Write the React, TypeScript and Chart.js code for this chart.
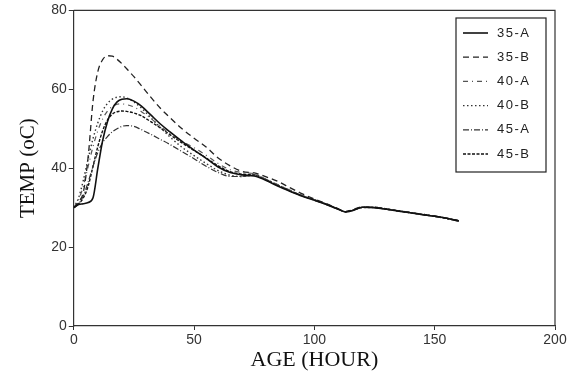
import React, { useEffect, useRef } from "react";
import { Chart, registerables } from "chart.js";

Chart.register(...registerables);

const hours = [0, 2, 4, 6, 8, 10, 12, 14, 16, 18, 20, 22, 25, 28, 32, 36, 40, 45, 50, 55, 60, 65, 70, 75, 80, 85, 90, 95, 100, 105, 110, 113, 116, 120, 125, 130, 135, 140, 145, 150, 155, 160];

const s35A = [30, 30.8, 31, 31.3, 32.5, 40, 47, 51.8, 55, 56.8, 57.5, 57.6, 57, 55.8, 53.5, 51.2, 49.2, 46.8, 44.6, 42.5, 40.3, 38.9, 38.3, 38, 36.9, 35.4, 34.1, 32.9, 31.9, 30.8, 29.6, 28.9, 29.3, 30.1, 30, 29.6, 29.1, 28.7, 28.2, 27.8, 27.3, 26.6];
const s35B = [30, 31.5, 34, 43, 57, 64.5, 67.5, 68.5, 68.4, 67.6, 66.5, 65.2, 63.2, 61, 58, 55.2, 52.8, 50, 47.6, 45.4, 42.6, 40.6, 39.2, 38.8, 37.8, 36.6, 35, 33.5, 32.2, 31, 29.7, 29, 29.5, 30.2, 30, 29.7, 29.2, 28.8, 28.3, 27.9, 27.3, 26.7];
const s40A = [30, 32, 35.5, 40.5, 45.5, 49.5, 52.5, 54.5, 55.6, 56.2, 56.3, 56.1, 55.5, 54.4, 52.6, 50.6, 48.7, 46.8, 45.2, 43.3, 41.2, 39.6, 38.9, 38.6, 37.2, 35.8, 34.4, 33.1, 32, 30.9, 29.6, 29, 29.4, 30.1, 30, 29.6, 29.2, 28.7, 28.2, 27.8, 27.3, 26.6];
const s40B = [30, 32.5, 37, 42.5, 47.5, 51.5, 54.5, 56.4, 57.5, 58, 58.1, 57.8, 56.8, 55.3, 52.8, 50.3, 47.9, 45.3, 43.2, 41.2, 39.4, 38.2, 37.9, 38.2, 37, 35.6, 34.2, 33, 31.9, 30.8, 29.5, 28.9, 29.3, 30, 30, 29.6, 29.1, 28.7, 28.2, 27.8, 27.2, 26.6];
const s45A = [30, 31, 33, 36.5, 40.5, 44, 46.5, 48, 49.2, 50, 50.6, 50.8, 50.6, 49.8, 48.6, 47.3, 46, 44.2, 42.4, 40.5, 38.9, 37.9, 37.9, 38.3, 37.1, 35.7, 34.3, 33, 31.9, 30.8, 29.6, 29, 29.4, 30.1, 30, 29.6, 29.2, 28.7, 28.2, 27.8, 27.3, 26.6];
const s45B = [30, 31, 32.5, 35.5, 40.5, 45.5, 49.5, 52.2, 53.7, 54.3, 54.5, 54.4, 54, 53.3, 51.8, 50.2, 48.5, 46.4, 44.5, 42.6, 40.6, 39.1, 38.5, 38.3, 37, 35.6, 34.2, 33, 32, 30.9, 29.6, 29, 29.4, 30.1, 30.1, 29.7, 29.2, 28.7, 28.3, 27.8, 27.3, 26.7];

const seriesLabels = ["35-A", "35-B", "40-A", "40-B", "45-A", "45-B"];
const seriesValues = [s35A, s35B, s40A, s40B, s45A, s45B];
const xTicks = [0, 50, 100, 150, 200];
const yTicks = [0, 20, 40, 60, 80];

const dashes: number[][] = [[], [6, 4], [5, 4, 1, 4], [1.5, 2.5], [6, 2, 1, 2], [3, 1.5]];
const widths = [1.6, 1.3, 1.2, 1.4, 1.2, 1.4];
const colors = ["#111", "#222", "#555", "#333", "#333", "#111"];

const framePlugin = {
  id: "frameLegend",
  afterDraw(chart: any) {
    const { ctx, chartArea } = chart;
    ctx.save();
    ctx.strokeStyle = "#333";
    ctx.lineWidth = 1.2;
    ctx.setLineDash([]);
    ctx.beginPath();
    ctx.moveTo(chartArea.left, chartArea.top);
    ctx.lineTo(chartArea.right, chartArea.top);
    ctx.lineTo(chartArea.right, chartArea.bottom);
    ctx.stroke();

    // legend box
    const bx = 456, by = 18, bw = 90, bh = 154;
    ctx.strokeStyle = "#222";
    ctx.lineWidth = 1.2;
    ctx.strokeRect(bx, by, bw, bh);
    const ds = chart.data.datasets;
    ctx.font = "13px 'Liberation Sans', Arial, sans-serif";
    ctx.fillStyle = "#222";
    ctx.textBaseline = "middle";
    (ctx as any).letterSpacing = "1.5px";
    for (let i = 0; i < ds.length; i++) {
      const y = 33 + i * 24.2;
      ctx.beginPath();
      ctx.setLineDash(ds[i].borderDash || []);
      ctx.strokeStyle = ds[i].borderColor;
      ctx.lineWidth = ds[i].borderWidth;
      ctx.moveTo(463, y);
      ctx.lineTo(488, y);
      ctx.stroke();
      ctx.setLineDash([]);
      ctx.fillText(ds[i].label, 497, y);
    }
    ctx.restore();
  },
};

export default function App() {
  const ref = useRef<HTMLCanvasElement | null>(null);
  useEffect(() => {
    document.body.style.margin = "0";
    const canvas = ref.current!;
    const chart = new Chart(canvas, {
      type: "line",
      data: {
        datasets: seriesLabels.map((label, i) => ({
          label,
          data: hours.map((h, j) => ({ x: h, y: seriesValues[i][j] })),
          borderColor: colors[i],
          borderWidth: widths[i],
          borderDash: dashes[i],
          pointRadius: 0,
          fill: false,
          cubicInterpolationMode: "monotone" as const,
        })),
      },
      options: {
        animation: false,
        responsive: false,
        maintainAspectRatio: false,
        layout: { padding: { top: 10, right: 30, left: 16, bottom: 9.8 } },
        plugins: { legend: { display: false }, tooltip: { enabled: false } },
        scales: {
          x: {
            type: "linear",
            min: 0,
            max: 200,
            afterBuildTicks: (axis: any) => {
              axis.ticks = xTicks.map((v) => ({ value: v }));
            },
            grid: { drawOnChartArea: false, drawTicks: true, tickLength: 4, color: "#333" },
            border: { display: true, color: "#333", width: 1.2 },
            ticks: { color: "#333", font: { family: "'Liberation Sans', Arial, sans-serif", size: 14 }, padding: 2, maxRotation: 0 },
            title: {
              display: true,
              text: "AGE (HOUR)",
              color: "#111",
              font: { family: "'Liberation Serif', 'Times New Roman', serif", size: 22 },
              padding: { top: -4, bottom: 0 },
            },
          },
          y: {
            type: "linear",
            min: 0,
            max: 80,
            afterBuildTicks: (axis: any) => {
              axis.ticks = yTicks.map((v) => ({ value: v }));
            },
            grid: { drawOnChartArea: false, drawTicks: true, tickLength: 5, color: "#333" },
            border: { display: true, color: "#333", width: 1.2 },
            ticks: { color: "#333", font: { family: "'Liberation Sans', Arial, sans-serif", size: 14 }, padding: 2 },
            title: {
              display: true,
              text: "TEMP (oC)",
              color: "#111",
              font: { family: "'Liberation Serif', 'Times New Roman', serif", size: 21 },
              padding: { top: 0, bottom: 8 },
            },
          },
        },
      },
      plugins: [framePlugin],
    });
    return () => chart.destroy();
  }, []);
  return (
    <div style={{ position: "fixed", left: 0, top: 0, width: 585, height: 383, background: "#fff" }}>
      <canvas ref={ref} width={585} height={383} style={{ width: 585, height: 383, display: "block" }} />
    </div>
  );
}
